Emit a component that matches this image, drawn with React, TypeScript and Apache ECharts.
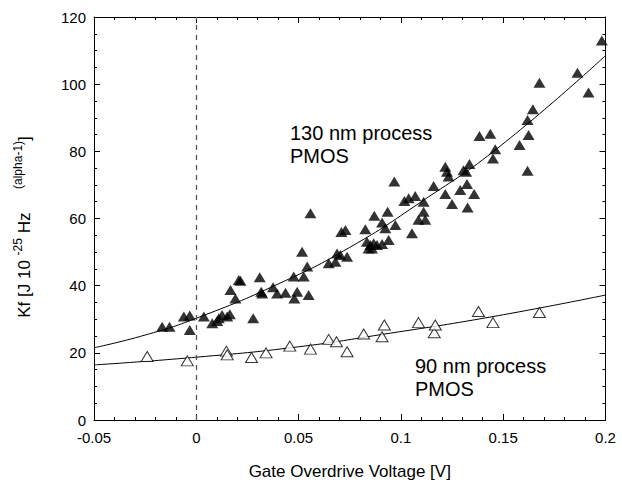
import React, { useEffect, useRef } from "react";
import * as echarts from "echarts";

// ---- data ----
const xTickLabels = ["-0.05", "0", "0.05", "0.1", "0.15", "0.2"];
const yTickLabels = ["0", "20", "40", "60", "80", "100", "120"];

// 130 nm process PMOS (filled triangles): [gate overdrive V, Kf]
const pmos130: [number, number][] = [
  [-0.0167, 27.8], [-0.0131, 27.8], [-0.0061, 30.8], [-0.0032, 31.1], [-0.0032, 26.8],
  [0.0037, 30.8], [0.0078, 28.8], [0.0102, 29.5], [0.0126, 31.3], [0.0151, 30.8],
  [0.0164, 31.5], [0.011, 30.3], [0.0191, 36.2], [0.0167, 38.7], [0.0208, 41.7],
  [0.0216, 41.5], [0.0278, 30.3], [0.031, 42.5], [0.0317, 38.2], [0.0322, 37.7],
  [0.0375, 39.5], [0.0395, 37.7], [0.0436, 37.9], [0.0476, 42.7], [0.0479, 36.2],
  [0.0493, 38.2], [0.0517, 50.1], [0.0525, 42.7], [0.0542, 45.7], [0.0549, 37.2],
  [0.0558, 61.6], [0.0647, 46.7], [0.068, 47.1], [0.0688, 49.6], [0.0704, 49.1],
  [0.0737, 48.6], [0.0729, 56.6], [0.0709, 56.0], [0.0834, 53.1], [0.0851, 52.1],
  [0.0867, 52.6], [0.0883, 52.1], [0.0908, 52.4], [0.094, 53.6], [0.0842, 51.1],
  [0.0859, 51.1], [0.0826, 56.8], [0.087, 60.8], [0.0908, 58.8], [0.0924, 57.1],
  [0.0935, 62.0], [0.0973, 58.1], [0.0968, 71.0], [0.1054, 55.6], [0.1038, 66.0],
  [0.107, 66.7], [0.1111, 65.0], [0.1086, 59.6], [0.1111, 62.0], [0.1119, 59.6],
  [0.1017, 65.2], [0.116, 69.7], [0.1217, 75.4], [0.1225, 73.9], [0.1233, 72.5],
  [0.1217, 67.3], [0.125, 64.3], [0.129, 68.5], [0.1323, 70.3], [0.1306, 74.4],
  [0.1319, 73.9], [0.1335, 76.2], [0.1358, 67.3], [0.1326, 63.3], [0.1384, 84.6],
  [0.1437, 85.2], [0.1461, 80.6], [0.145, 77.9], [0.158, 81.9], [0.1619, 89.3],
  [0.1624, 84.9], [0.1619, 74.2], [0.1645, 92.5], [0.1677, 100.4], [0.1863, 103.4],
  [0.1917, 97.5], [0.1982, 113.0],
];

// 90 nm process PMOS (open triangles)
const pmos90: [number, number][] = [
  [-0.024, 18.9], [-0.0044, 17.6], [0.0147, 20.5], [0.0151, 19.4], [0.027, 18.6],
  [0.0341, 20.0], [0.0457, 22.0], [0.0558, 21.1], [0.0647, 24.0], [0.0685, 23.3],
  [0.0737, 20.3], [0.0818, 25.6], [0.0908, 24.8], [0.0919, 28.3], [0.1086, 29.0],
  [0.1163, 26.0], [0.1168, 28.3], [0.1379, 32.3], [0.145, 29.0], [0.1677, 32.0],
];

// fitted curves
const fit130: [number, number][] = [
  [-0.05, 21.5], [-0.025, 25.3], [0, 30.3], [0.04, 40.5], [0.075, 51.4],
  [0.11, 65.0], [0.1486, 81.6], [0.2, 108.5],
];
const fit90: [number, number][] = [
  [-0.05, 16.4], [0, 18.7], [0.05, 21.8], [0.09, 25.4], [0.145, 30.8], [0.2, 37.2],
];

const X_MIN = -0.05;
const X_MAX = 0.2;
const X_STEP = 0.05;
const Y_MIN = 0;
const Y_MAX = 120;
const Y_STEP = 20;

const FONT = "'Liberation Sans', Arial, Helvetica, sans-serif";

export default function App() {
  const ref = useRef<HTMLDivElement>(null);

  useEffect(() => {
    if (!ref.current) return;
    const chart = echarts.init(ref.current, undefined, { renderer: "svg" });

    const xLabel = (v: number) => xTickLabels[Math.round((v - X_MIN) / X_STEP)] ?? "";
    const yLabel = (v: number) => yTickLabels[Math.round((v - Y_MIN) / Y_STEP)] ?? "";

    const axisLine = { show: true, onZero: false, lineStyle: { color: "#000", width: 1 } };
    const tickCommon = { show: true, inside: true, length: 6, lineStyle: { color: "#000", width: 1 } };
    const minorCommon = { show: true, length: 3, lineStyle: { color: "#000", width: 1 } };

    const xBase = {
      type: "value" as const,
      min: X_MIN,
      max: X_MAX,
      interval: X_STEP,
      axisLine,
      axisTick: tickCommon,
      minorTick: { ...minorCommon, splitNumber: 5 },
      splitLine: { show: false },
      minorSplitLine: { show: false },
    };
    const yBase = {
      type: "value" as const,
      min: Y_MIN,
      max: Y_MAX,
      interval: Y_STEP,
      axisLine,
      axisTick: tickCommon,
      minorTick: { ...minorCommon, splitNumber: 4 },
      splitLine: { show: false },
      minorSplitLine: { show: false },
    };

    chart.setOption({
      animation: false,
      textStyle: { fontFamily: FONT },
      grid: { left: 94, right: 16.5, top: 17, bottom: 66, containLabel: false },
      xAxis: [
        {
          ...xBase,
          position: "bottom",
          axisLabel: { show: true, formatter: xLabel, color: "#000", fontSize: 15, margin: 10, fontFamily: FONT },
          name: "Gate Overdrive Voltage [V]",
          nameLocation: "middle",
          nameGap: 43,
          nameTextStyle: { color: "#000", fontSize: 17, fontFamily: FONT },
        },
        {
          ...xBase,
          position: "top",
          axisLabel: { show: false },
        },
      ],
      yAxis: [
        {
          ...yBase,
          position: "left",
          axisLabel: { show: true, formatter: yLabel, color: "#000", fontSize: 15, margin: 8, fontFamily: FONT },
        },
        {
          ...yBase,
          position: "right",
          axisLabel: { show: false },
        },
      ],
      graphic: [
        {
          type: "text",
          x: 22,
          y: 227,
          rotation: Math.PI / 2,
          style: {
            text: "{m|Kf [J 10 }{s|-25}{m| Hz     }{s|(alpha-1)}{m|]}",
            align: "center",
            verticalAlign: "middle",
            fill: "#000",
            fontFamily: FONT,
            rich: {
              m: { fontSize: 17, lineHeight: 21, verticalAlign: "bottom", fill: "#000", fontFamily: FONT },
              s: { fontSize: 12, lineHeight: 21, verticalAlign: "top", fill: "#000", fontFamily: FONT },
            },
          },
        },
        {
          type: "text",
          left: 290,
          top: 121,
          style: {
            text: "130 nm process\nPMOS",
            fontSize: 20,
            lineHeight: 23,
            fill: "#000",
            fontFamily: FONT,
          },
        },
        {
          type: "text",
          left: 415,
          top: 354,
          style: {
            text: "90 nm process\nPMOS",
            fontSize: 20,
            lineHeight: 23,
            fill: "#000",
            fontFamily: FONT,
          },
        },
      ],
      series: [
        {
          type: "line",
          name: "fit130",
          data: fit130,
          smooth: true,
          showSymbol: false,
          symbol: "none",
          lineStyle: { color: "#000", width: 1 },
          markLine: {
            silent: true,
            symbol: "none",
            label: { show: false },
            lineStyle: { color: "#555", width: 1.3, type: [5, 5] },
            data: [{ xAxis: 0 }],
          },
          z: 2,
        },
        {
          type: "line",
          name: "fit90",
          data: fit90,
          smooth: true,
          showSymbol: false,
          symbol: "none",
          lineStyle: { color: "#000", width: 1 },
          z: 2,
        },
        {
          type: "scatter",
          name: "130 nm",
          data: pmos130,
          symbol: "triangle",
          symbolSize: [12, 10],
          itemStyle: { color: "#000" },
          z: 3,
        },
        {
          type: "scatter",
          name: "90 nm",
          data: pmos90,
          symbol: "triangle",
          symbolSize: [12, 10],
          itemStyle: { color: "#fff", borderColor: "#000", borderWidth: 1 },
          z: 3,
        },
      ],
    });

    return () => chart.dispose();
  }, []);

  return <div ref={ref} style={{ width: 622, height: 486, position: "absolute", left: 0, top: 0, background: "#fff" }} />;
}
